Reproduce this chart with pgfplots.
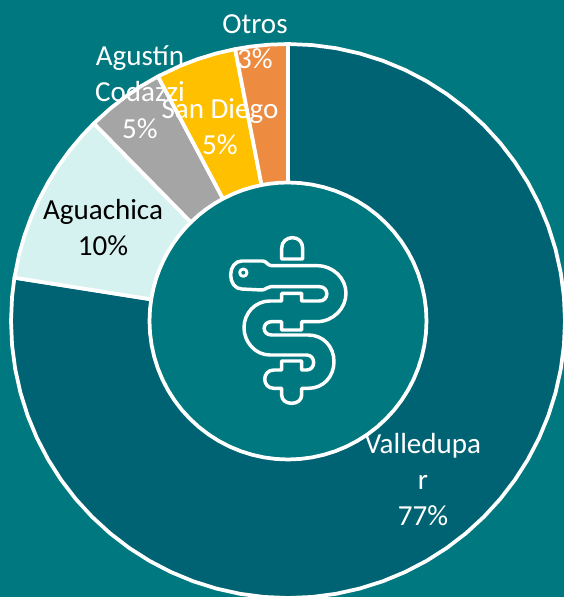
\documentclass[border=0pt]{standalone}
\usepackage{pgfplots}
\pgfplotsset{compat=1.18}
\usepackage{fontspec}
\setmainfont{Carlito}
\definecolor{bgc}{HTML}{00787F}
\definecolor{val}{HTML}{006373}
\definecolor{agu}{HTML}{D5F2F0}
\definecolor{cod}{HTML}{A5A5A5}
\definecolor{sd}{HTML}{FFC000}
\definecolor{otr}{HTML}{ED8B41}
\tikzset{lab/.style={anchor=base,text=white,font=\fontsize{21.8}{24}\selectfont,inner sep=0pt}}
\begin{document}
\begin{tikzpicture}
\begin{axis}[
  scale only axis, width=423pt, height=447.75pt,
  xmin=-288, xmax=276, ymin=-276, ymax=321,
  hide axis, clip=true,
]
\addplot[fill=bgc,draw=none] coordinates {(-288,-276) (276,-276) (276,321) (-288,321) (-288,-276)};
\pgfplotsset{every axis plot/.style={draw=white,line width=2.8pt,line join=round,data cs=polar,mark=none}}
% Valledupar 77%
\addplot[fill=val] coordinates {(171,277) (175,277) (180,277) (185,277) (190,277) (195,277) (200,277) (205,277) (210,277) (215,277) (220,277) (225,277) (230,277) (235,277) (240,277) (245,277) (250,277) (255,277) (260,277) (265,277) (270,277) (275,277) (280,277) (285,277) (290,277) (295,277) (300,277) (305,277) (310,277) (315,277) (320,277) (325,277) (330,277) (335,277) (340,277) (345,277) (350,277) (355,277) (360,277) (365,277) (370,277) (375,277) (380,277) (385,277) (390,277) (395,277) (400,277) (405,277) (410,277) (415,277) (420,277) (425,277) (430,277) (435,277) (440,277) (445,277) (450,277)
(450,138.5) (445,138.5) (440,138.5) (435,138.5) (430,138.5) (425,138.5) (420,138.5) (415,138.5) (410,138.5) (405,138.5) (400,138.5) (395,138.5) (390,138.5) (385,138.5) (380,138.5) (375,138.5) (370,138.5) (365,138.5) (360,138.5) (355,138.5) (350,138.5) (345,138.5) (340,138.5) (335,138.5) (330,138.5) (325,138.5) (320,138.5) (315,138.5) (310,138.5) (305,138.5) (300,138.5) (295,138.5) (290,138.5) (285,138.5) (280,138.5) (275,138.5) (270,138.5) (265,138.5) (260,138.5) (255,138.5) (250,138.5) (245,138.5) (240,138.5) (235,138.5) (230,138.5) (225,138.5) (220,138.5) (215,138.5) (210,138.5) (205,138.5) (200,138.5) (195,138.5) (190,138.5) (185,138.5) (180,138.5) (175,138.5) (171,138.5) (171,277)};
% Aguachica 10%
\addplot[fill=agu] coordinates {(134.5,277) (138,277) (142,277) (146,277) (150,277) (154,277) (158,277) (162,277) (166,277) (171,277) (171,138.5) (166,138.5) (162,138.5) (158,138.5) (154,138.5) (150,138.5) (146,138.5) (142,138.5) (138,138.5) (134.5,138.5) (134.5,277)};
% Agustin Codazzi 5%
\addplot[fill=cod] coordinates {(118,277) (122,277) (126,277) (130,277) (134.5,277) (134.5,138.5) (130,138.5) (126,138.5) (122,138.5) (118,138.5) (118,277)};
% San Diego 5%
\addplot[fill=sd] coordinates {(101,277) (105,277) (109,277) (113,277) (118,277) (118,138.5) (113,138.5) (109,138.5) (105,138.5) (101,138.5) (101,277)};
% Otros 3%
\addplot[fill=otr] coordinates {(90,277) (94,277) (98,277) (101,277) (101,138.5) (98,138.5) (94,138.5) (90,138.5) (90,277)};
% icon
\begin{scope}[shift={(axis cs:-78,96)},x=0.25pt,y=-0.25pt,draw=white,line width=2.6pt,line join=round]
\draw (215,102) -- (215,70) .. controls (215,50) and (230,38) .. (247,38) .. controls (265,38) and (278,50) .. (278,70) -- (278,102) -- cycle;
\draw (95,108) -- (158,108) .. controls (170,108) and (172,122) .. (185,122) -- (320,122)
 .. controls (370,122) and (408,160) .. (408,205) .. controls (408,250) and (370,290) .. (320,290)
 -- (275,290) -- (275,315) -- (215,315) -- (215,290) -- (185,290)
 .. controls (155,290) and (155,330) .. (185,330) -- (295,330)
 .. controls (340,330) and (372,365) .. (372,410) .. controls (372,455) and (340,490) .. (295,490)
 -- (275,490) -- (275,510) .. controls (275,525) and (262,535) .. (245,535) .. controls (228,535) and (215,525) .. (215,510)
 -- (215,490) -- (192,490) .. controls (155,490) and (155,435) .. (192,435) -- (215,435) -- (215,408) -- (275,408) -- (275,435) -- (290,435)
 .. controls (318,435) and (318,390) .. (290,390) -- (180,390)
 .. controls (135,390) and (102,350) .. (102,308) .. controls (102,265) and (135,228) .. (180,228)
 -- (215,228) -- (215,205) -- (275,205) -- (275,228) -- (328,228)
 .. controls (358,228) and (358,185) .. (328,185) -- (182,185)
 .. controls (170,185) and (168,195) .. (155,195) -- (95,192)
 .. controls (75,192) and (62,172) .. (62,150) .. controls (62,128) and (75,108) .. (95,108) -- cycle;
\draw[line width=2.2pt] (100,143) circle[radius=11];
\end{scope}
% labels
\node[lab] at (axis cs:-33,287.5) {Otros};
\node[lab] at (axis cs:-33,252.5) {3\%};
\node[lab] at (axis cs:-148,255.5) {Agustín};
\node[lab] at (axis cs:-148,219.5) {Codazzi};
\node[lab] at (axis cs:-148,182.5) {5\%};
\node[lab] at (axis cs:-68,202.5) {San Diego};
\node[lab] at (axis cs:-68,166.5) {5\%};
\node[lab,text=black] at (axis cs:-185,101.5) {Aguachica};
\node[lab,text=black] at (axis cs:-185,65.5) {10\%};
\node[lab] at (axis cs:135,-132.5) {Valledupa};
\node[lab] at (axis cs:135,-168.5) {r};
\node[lab] at (axis cs:135,-204.5) {77\%};
\end{axis}
\end{tikzpicture}
\end{document}
